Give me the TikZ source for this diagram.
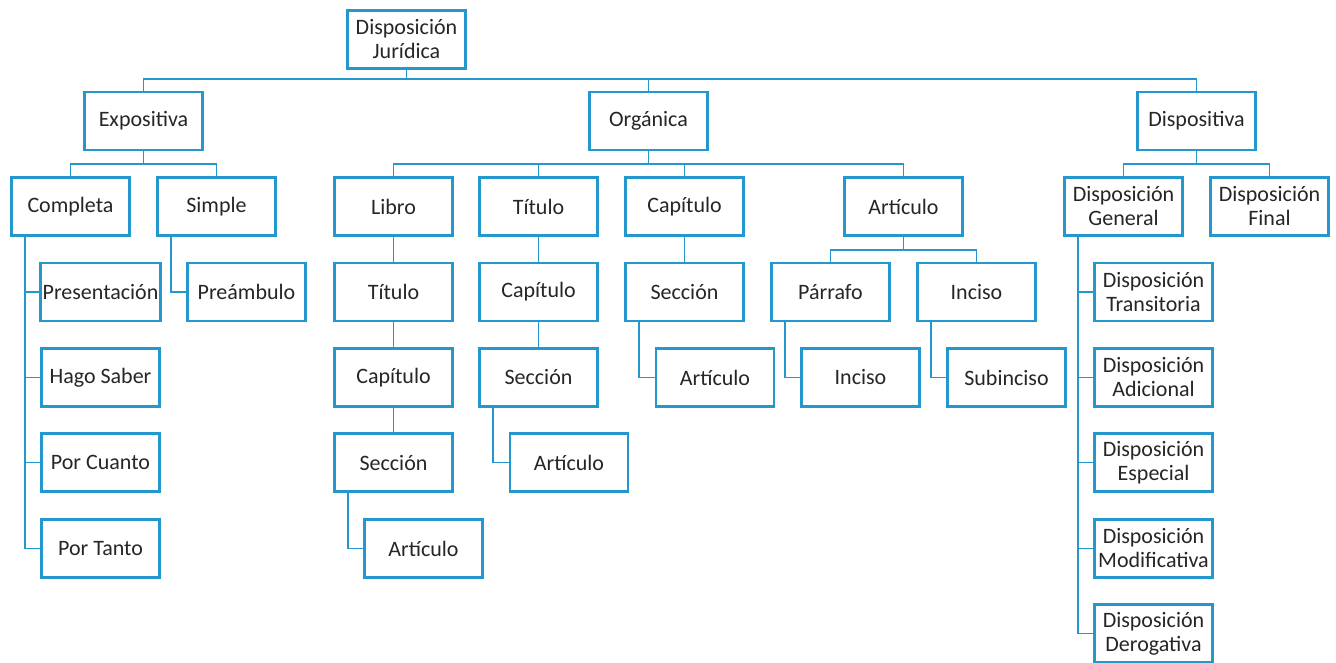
\documentclass[tikz,border=0pt]{standalone}
\usepackage{fontspec}
\setmainfont{Carlito}
\definecolor{boxblue}{RGB}{36,152,206}
\begin{document}
\begin{tikzpicture}[x=1pt,y=-1pt,
  box/.style={draw=boxblue,line width=2.6pt,fill=white,minimum width=118pt,minimum height=58pt,
    inner sep=2pt,outer sep=0pt,align=center,font=\fontsize{22}{24}\selectfont,text=black!85},
  link/.style={draw=boxblue,line width=1.9pt}]
\useasboundingbox (0,0) rectangle (1336,662);

% connector bus levels
\coordinate (b0) at (0,79);
\coordinate (b1) at (0,164);
\coordinate (b2) at (0,250);

% level 0 and 1
\node[box] (root) at (406.5,39.5) {Disposición\\Jurídica};
\node[box] (exp) at (143.5,121) {Expositiva};
\node[box] (org) at (648.5,121) {Orgánica};
\node[box] (dis) at (1196.5,121) {Dispositiva};

% level 2
\node[box] (comp) at (70.5,206.5) {Completa};
\node[box] (simp) at (216.5,206.5) {Simple};
\node[box] (libro) at (393.5,206.5) {Libro};
\node[box] (tit) at (538.5,206.5) {Título};
\node[box] (cap) at (684.5,206.5) {Capítulo};
\node[box] (art) at (903.5,206.5) {Artículo};
\node[box] (dgen) at (1123.5,206.5) {Disposición\\General};
\node[box] (dfin) at (1269.5,206.5) {Disposición\\Final};

% level 3
\node[box] (pres) at (100.5,292) {Presentación};
\node[box] (pream) at (246.5,292) {Preámbulo};
\node[box] (libtit) at (393.5,292) {Título};
\node[box] (titcap) at (538.5,292) {Capítulo};
\node[box] (capsec) at (684.5,292) {Sección};
\node[box] (parr) at (830.5,292) {Párrafo};
\node[box] (inc) at (976.5,292) {Inciso};
\node[box] (dtra) at (1153.5,292) {Disposición\\Transitoria};

% level 4
\node[box] (hago) at (100.5,377.5) {Hago Saber};
\node[box] (libcap) at (393.5,377.5) {Capítulo};
\node[box] (titsec) at (538.5,377.5) {Sección};
\node[box] (capart) at (715,377.5) {Artículo};
\node[box] (parinc) at (860.5,377.5) {Inciso};
\node[box] (subinc) at (1006.5,377.5) {Subinciso};
\node[box] (dadi) at (1153.5,377.5) {Disposición\\Adicional};

% level 5
\node[box] (porc) at (100.5,462.5) {Por Cuanto};
\node[box] (libsec) at (393.5,462.5) {Sección};
\node[box] (titart) at (569,462.5) {Artículo};
\node[box] (desp) at (1153.5,462.5) {Disposición\\Especial};

% level 6 and 7
\node[box] (port) at (100.5,548.5) {Por Tanto};
\node[box] (libart) at (423.5,548.5) {Artículo};
\node[box] (dmod) at (1153.5,548.5) {Disposición\\Modificativa};
\node[box] (dder) at (1153.5,633.5) {Disposición\\Derogativa};

% top-down connectors through horizontal buses
\path[link] (root.south) -- (root.south |- b0) -| (exp.north);
\path[link] (root.south |- b0) -| (org.north);
\path[link] (root.south |- b0) -| (dis.north);
\path[link] (exp.south) -- (exp.south |- b1) -| (comp.north);
\path[link] (exp.south |- b1) -| (simp.north);
\path[link] (org.south) -- (org.south |- b1) -| (libro.north);
\path[link] (org.south |- b1) -| (tit.north);
\path[link] (org.south |- b1) -| (cap.north);
\path[link] (org.south |- b1) -| (art.north);
\path[link] (dis.south) -- (dis.south |- b1) -| (dgen.north);
\path[link] (dis.south |- b1) -| (dfin.north);
\path[link] (art.south) -- (art.south |- b2) -| (parr.north);
\path[link] (art.south |- b2) -| (inc.north);

% straight vertical chains
\path[link] (libro.south) -- (libtit.north);
\path[link] (libtit.south) -- (libcap.north);
\path[link] (libcap.south) -- (libsec.north);
\path[link] (tit.south) -- (titcap.north);
\path[link] (titcap.south) -- (titsec.north);
\path[link] (cap.south) -- (capsec.north);

% side (elbow) connectors
\path[link] ([xshift=13.5pt]comp.south west) |- (pres.west);
\path[link] ([xshift=13.5pt]comp.south west) |- (hago.west);
\path[link] ([xshift=13.5pt]comp.south west) |- (porc.west);
\path[link] ([xshift=13.5pt]comp.south west) |- (port.west);
\path[link] ([xshift=13.5pt]simp.south west) |- (pream.west);
\path[link] ([xshift=13.5pt]libsec.south west) |- (libart.west);
\path[link] ([xshift=13.5pt]titsec.south west) |- (titart.west);
\path[link] ([xshift=13.5pt]capsec.south west) |- (capart.west);
\path[link] ([xshift=13.5pt]parr.south west) |- (parinc.west);
\path[link] ([xshift=13.5pt]inc.south west) |- (subinc.west);
\path[link] ([xshift=13.5pt]dgen.south west) |- (dtra.west);
\path[link] ([xshift=13.5pt]dgen.south west) |- (dadi.west);
\path[link] ([xshift=13.5pt]dgen.south west) |- (desp.west);
\path[link] ([xshift=13.5pt]dgen.south west) |- (dmod.west);
\path[link] ([xshift=13.5pt]dgen.south west) |- (dder.west);
\end{tikzpicture}
\end{document}
